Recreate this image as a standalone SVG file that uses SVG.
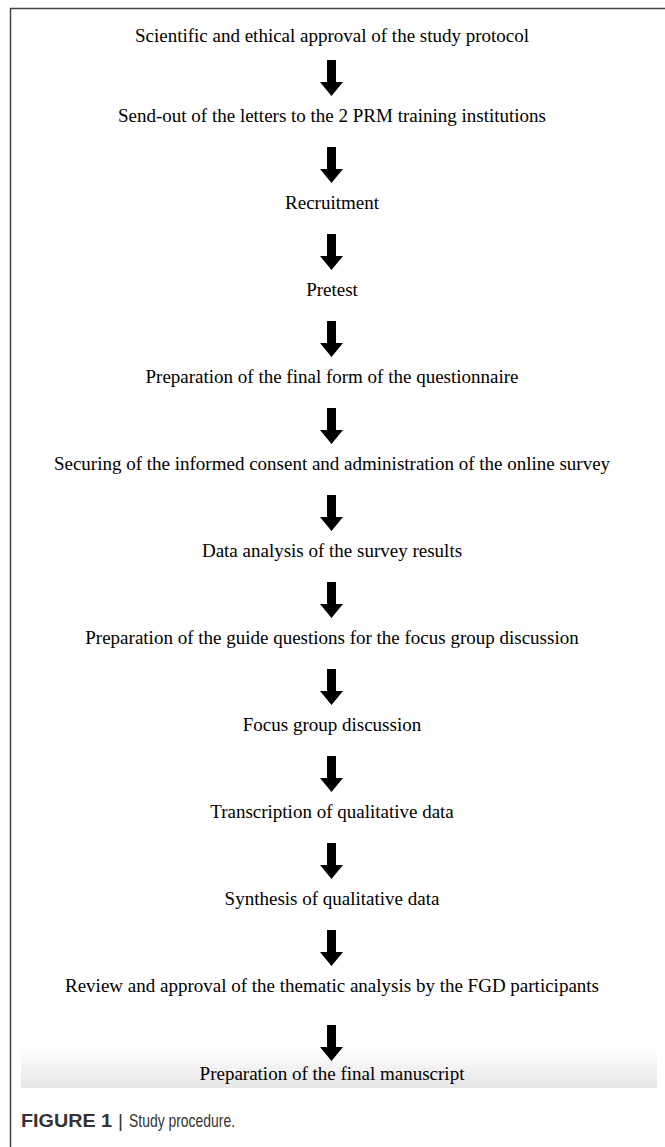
<svg xmlns="http://www.w3.org/2000/svg" width="665" height="1147" viewBox="0 0 665 1147">
<style>
.step{font-family:"Liberation Serif","Times New Roman",serif;font-size:19px;fill:#000;text-anchor:middle}
.cap{font-family:"Liberation Sans Narrow","Liberation Sans",Arial,sans-serif;font-size:19px;fill:#333}
.arrow{fill:#000}
</style>
<defs>
<linearGradient id="band" x1="0" y1="0" x2="0" y2="1">
<stop offset="0" stop-color="#ffffff"/>
<stop offset="1" stop-color="#e6e6e6"/>
</linearGradient>
<path id="arr" d="M-4.5,0 H4.5 V22 H11.5 L0,36 L-11.5,22 H-4.5 Z"/>
</defs>
<rect x="0" y="0" width="665" height="1147" fill="#fff"/>
<path d="M10.5,1147 V8.5 H665" fill="none" stroke="#444" stroke-width="1.5"/>
<rect x="21" y="1047" width="636" height="41" fill="url(#band)"/>
<g id="connectors" class="arrow">
<use href="#arr" x="331.5" y="60"/>
<use href="#arr" x="331.5" y="147"/>
<use href="#arr" x="331.5" y="234"/>
<use href="#arr" x="331.5" y="321"/>
<use href="#arr" x="331.5" y="408"/>
<use href="#arr" x="331.5" y="495"/>
<use href="#arr" x="331.5" y="582"/>
<use href="#arr" x="331.5" y="669"/>
<use href="#arr" x="331.5" y="756"/>
<use href="#arr" x="331.5" y="843"/>
<use href="#arr" x="331.5" y="930"/>
<use href="#arr" x="331.5" y="1025"/>
</g>
<g id="n1"><text class="step" x="332" y="42">Scientific and ethical approval of the study protocol</text></g>
<g id="n2"><text class="step" x="332" y="122">Send-out of the letters to the 2 PRM training institutions</text></g>
<g id="n3"><text class="step" x="332" y="209">Recruitment</text></g>
<g id="n4"><text class="step" x="332" y="296">Pretest</text></g>
<g id="n5"><text class="step" x="332" y="383">Preparation of the final form of the questionnaire</text></g>
<g id="n6"><text class="step" x="332" y="470">Securing of the informed consent and administration of the online survey</text></g>
<g id="n7"><text class="step" x="332" y="557">Data analysis of the survey results</text></g>
<g id="n8"><text class="step" x="332" y="644">Preparation of the guide questions for the focus group discussion</text></g>
<g id="n9"><text class="step" x="332" y="731">Focus group discussion</text></g>
<g id="n10"><text class="step" x="332" y="818">Transcription of qualitative data</text></g>
<g id="n11"><text class="step" x="332" y="905">Synthesis of qualitative data</text></g>
<g id="n12"><text class="step" x="332" y="992">Review and approval of the thematic analysis by the FGD participants</text></g>
<g id="n13"><text class="step" x="332" y="1080">Preparation of the final manuscript</text></g>
<g id="caption">
<text class="cap" x="21" y="1127" font-weight="bold" textLength="91" lengthAdjust="spacingAndGlyphs">FIGURE 1</text>
<text class="cap" x="118" y="1127">|</text>
<text class="cap" x="129" y="1127" textLength="106" lengthAdjust="spacingAndGlyphs">Study procedure.</text>
</g>
</svg>
